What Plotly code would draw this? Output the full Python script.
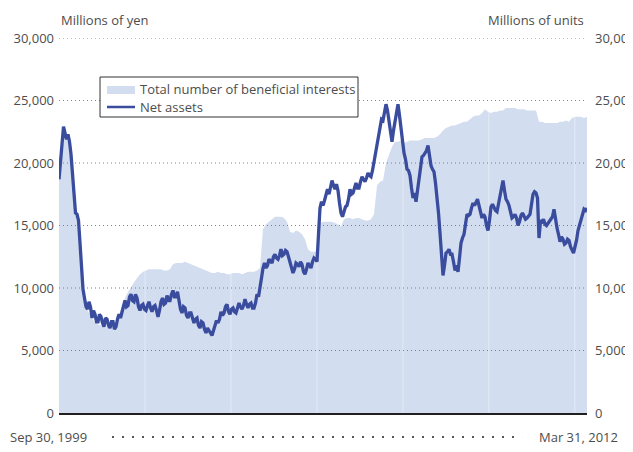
import numpy as np
import pandas as pd
import plotly.graph_objects as go

start_date = "1999-09-30"
end_date = "2012-03-31"
start_label = "Sep 30, 1999"
end_label = "Mar 31, 2012"
area_name = "Total number of beneficial interests"
line_name = "Net assets"

y_ticks = [0, 5000, 10000, 15000, 20000, 25000, 30000]

net_assets = [
    18700, 20400, 21800, 22900, 22400, 21900, 22300, 21700, 20700, 19200,
    17300, 16000, 15900, 15400, 13600, 11800, 9900, 9200, 8500, 8300,
    8900, 8500, 7600, 8200, 7900, 7300, 7300, 7900, 7700, 7200,
    6900, 7600, 7500, 7000, 6800, 7300, 7300, 6700, 6900, 7500,
    7900, 7600, 8000, 8600, 9000, 8500, 8600, 9300, 9500, 9000,
    8900, 9500, 9200, 8500, 8200, 8600, 8700, 8300, 8200, 8600,
    8900, 8400, 8100, 8500, 8600, 8200, 7700, 8200, 8900, 9200,
    8700, 8800, 9400, 9000, 9000, 9500, 9800, 9300, 9300, 9700,
    8800, 8300, 8000, 8500, 8400, 7800, 7600, 8000, 8000, 7500,
    7200, 7500, 7600, 7000, 6800, 7300, 7200, 6700, 6400, 6800,
    6600, 6300, 6200, 6600, 7100, 7400, 7200, 7500, 8100, 7800,
    8000, 8500, 8700, 8100, 7900, 8300, 8400, 8100, 8000, 8500,
    8800, 8500, 8300, 8600, 9100, 8700, 8400, 8700, 8800, 8400,
    8400, 8800, 9500, 9300, 9900, 10800, 11600, 12000, 11600, 11800,
    12300, 12100, 12000, 12500, 12700, 12400, 12300, 12600, 13100, 12600,
    12700, 13000, 12900, 12500, 12000, 11600, 11200, 11500, 12000, 11900,
    11700, 12100, 11900, 11300, 11100, 11500, 12000, 11800, 11600, 12100,
    12400, 12300, 12100, 14300, 16400, 16900, 16600, 17000, 17600, 17900,
    17500, 18200, 18600, 18200, 17900, 18300, 17800, 16800, 16000, 15700,
    16100, 16500, 16600, 17100, 17900, 17500, 17600, 18100, 18400, 18000,
    18000, 18500, 18900, 18700, 18500, 18800, 19200, 19000, 18900, 19400,
    20100, 21000, 21600, 22300, 23100, 23500, 23400, 24000, 24700, 24200,
    23200, 22400, 21700, 22600, 23300, 24000, 24700, 23800, 22800, 21500,
    20800, 20300, 19500, 19400, 19000, 18000, 17200, 17600, 16900, 17800,
    18600, 19400, 20500, 20600, 20800, 21000, 21400, 20700, 19800, 19500,
    19300, 18400, 17300, 16000, 14400, 12800, 11000, 11800, 12800, 12900,
    13100, 12700, 12700, 12100, 11400, 11800, 11300, 12400, 13600, 14000,
    14300, 15100, 15900, 15800, 15900, 16400, 16800, 16600, 16800, 17100,
    16600, 16200, 15600, 15900, 15700, 15000, 14600, 15400, 16500, 16700,
    16400, 16200, 16100, 16700, 17300, 18000, 18600, 17800, 17100, 16900,
    16600, 16100, 15600, 15700, 15900, 15600, 15000, 15300, 15800, 16000,
    15700, 15500, 15600, 15800, 15900, 16700, 17500, 17700, 17600, 17200,
    14000, 15400, 15300, 15500, 15100, 15000, 15200, 15400, 15500, 15700,
    16300, 15400, 14800, 14300, 13700, 14100, 13900, 13500, 13600, 13900,
    13800, 13300, 13000, 12800, 13300, 13800, 14600, 15000, 15500, 16000,
    16300, 16200, 16400,
]

beneficial_interests = [
    18800, 21000, 22200, 21700, 20500, 16800, 15300, 13600, 9500, 8500,
    8000, 7600, 7200, 7100, 7000, 6900, 6900, 6800, 6900, 7300,
    7900, 8600, 9200, 9700, 10100, 10400, 10800, 11100, 11300, 11400,
    11500, 11500, 11500, 11500, 11500, 11400, 11400, 11500, 11900, 12000,
    12000, 12000, 12100, 12000, 11900, 11800, 11700, 11600, 11500, 11400,
    11300, 11200, 11200, 11300, 11200, 11200, 11100, 11100, 11200, 11200,
    11200, 11100, 11200, 11300, 11300, 11300, 11400, 11600, 14700, 15100,
    15300, 15500, 15700, 15700, 15700, 15600, 15300, 14500, 14400, 14600,
    14500, 14300, 13900, 13100, 12900, 12900, 12900, 15200, 15300, 15300,
    15300, 15300, 15200, 15100, 14900, 15500, 15600, 15600, 15500, 15600,
    15600, 15500, 15400, 15400, 15500, 15900, 18200, 18500, 18600, 20000,
    20700, 21300, 21700, 21700, 21800, 21600, 21700, 21800, 21800, 21800,
    21800, 21900, 22000, 22000, 22000, 22000, 22100, 22300, 22600, 22800,
    22900, 23000, 23000, 23100, 23200, 23300, 23300, 23500, 23700, 23800,
    23800, 24000, 24300, 24100, 24000, 24100, 24100, 24200, 24200, 24400,
    24400, 24400, 24400, 24300, 24300, 24300, 24200, 24200, 24200, 24200,
    23300, 23300, 23200, 23200, 23200, 23200, 23200, 23300, 23300, 23400,
    23300, 23600, 23700, 23700, 23700, 23600, 23700,
]

divider_dates = ["2001-10-13", "2003-10-26", "2005-11-08", "2007-11-21", "2009-12-03", "2011-12-17"]

net_dates = pd.date_range(start_date, end_date, periods=len(net_assets))
area_dates = pd.date_range(start_date, end_date, periods=len(beneficial_interests))

AREA = "#d3ddf0"
LINE = "#3a4c9e"
TXT = "#4d4d4d"
FONT = "Open Sans"

fig = go.Figure()

fig.add_trace(go.Scatter(
    x=area_dates, y=beneficial_interests, mode="lines", fill="tozeroy",
    fillcolor=AREA, line=dict(width=0, color=AREA),
    name=area_name, hoverinfo="skip", showlegend=False,
))

# faint dividers inside the area
num_dates = area_dates.astype("int64").to_numpy()
dx, dy = [], []
for d in divider_dates:
    t = pd.Timestamp(d).value
    top = float(np.interp(t, num_dates, beneficial_interests))
    dx += [d, d, None]
    dy += [0, top, None]
fig.add_trace(go.Scatter(x=dx, y=dy, mode="lines", line=dict(color="rgba(255,255,255,0.4)", width=1),
                         showlegend=False, hoverinfo="skip"))

# dotted grid lines drawn above the area
gx, gy = [], []
for v in y_ticks[1:]:
    gx += [area_dates[0], area_dates[-1], None]
    gy += [v, v, None]
fig.add_trace(go.Scatter(x=gx, y=gy, mode="lines",
                         line=dict(color="#808080", width=1.2, dash="1px,3px"),
                         showlegend=False, hoverinfo="skip"))

fig.add_trace(go.Scatter(
    x=net_dates, y=net_assets, mode="lines", line=dict(color=LINE, width=3.3),
    name=line_name, hoverinfo="skip", showlegend=False,
))

fig.add_trace(go.Scatter(x=area_dates[:1], y=beneficial_interests[:1], yaxis="y2", mode="markers",
                         marker=dict(opacity=0), showlegend=False, hoverinfo="skip"))

# hand-built legend box (matches the compact reference legend)
legend_shapes = [
    dict(type="rect", xref="paper", yref="paper", x0=0.0777, x1=0.5663, y0=0.7893, y1=0.896,
         line=dict(color="#333333", width=1), fillcolor="white", layer="above"),
    dict(type="rect", xref="paper", yref="paper", x0=0.0909, x1=0.1439, y0=0.8507, y1=0.872,
         line=dict(width=0), fillcolor=AREA, layer="above"),
    dict(type="line", xref="paper", yref="paper", x0=0.0909, x1=0.1439, y0=0.816, y1=0.816,
         line=dict(color=LINE, width=2.5), layer="above"),
]

# the page body adds an 8px offset, so the figure is 8px smaller to keep the reference layout
fig.update_layout(
    width=625, height=444,
    margin=dict(l=51, r=46, t=30, b=39),
    paper_bgcolor="white", plot_bgcolor="white",
    font=dict(family=FONT, size=13, color=TXT),
    showlegend=False,
    xaxis=dict(range=[area_dates[0], area_dates[-1]], showgrid=False, showticklabels=False,
               showline=True, linecolor="#231f20", linewidth=1.5, zeroline=False, ticks="",
               automargin=False),
    yaxis=dict(range=[0, 30000], tickvals=y_ticks, tickformat=",d", showgrid=False,
               zeroline=False, ticks="", showline=False, tickfont=dict(size=13, color=TXT),
               automargin=False, ticklabelstandoff=4),
    yaxis2=dict(range=[0, 30000], tickvals=y_ticks, tickformat=",d", overlaying="y",
                side="right", showgrid=False, zeroline=False, ticks="", showline=False,
                tickfont=dict(size=13, color=TXT), automargin=False, ticklabelstandoff=7),
    annotations=[
        dict(text="Millions of yen", xref="paper", yref="paper", x=0.0, y=1.048,
             xanchor="left", yanchor="middle", showarrow=False, font=dict(size=13, color=TXT)),
        dict(text="Millions of units", xref="paper", yref="paper", x=0.998, y=1.048,
             xanchor="right", yanchor="middle", showarrow=False, font=dict(size=13, color=TXT)),
        dict(text=start_label, xref="paper", yref="paper", x=-0.0966, y=-0.064,
             xanchor="left", yanchor="middle", showarrow=False, font=dict(size=13, color=TXT)),
        dict(text=end_label, xref="paper", yref="paper", x=1.0625, y=-0.064,
             xanchor="right", yanchor="middle", showarrow=False, font=dict(size=13, color=TXT)),
        dict(text=area_name, xref="paper", yref="paper", x=0.1496, y=0.864,
             xanchor="left", yanchor="middle", showarrow=False, font=dict(size=13, color=TXT)),
        dict(text=line_name, xref="paper", yref="paper", x=0.1496, y=0.816,
             xanchor="left", yanchor="middle", showarrow=False, font=dict(size=13, color=TXT)),
    ],
    shapes=[dict(type="line", xref="paper", yref="paper", x0=0.1004, x1=0.877,
                 y0=-0.064, y1=-0.064, line=dict(color="#555555", width=2, dash="2px,8px"))]
           + legend_shapes,
)

fig.write_html("out.html")
